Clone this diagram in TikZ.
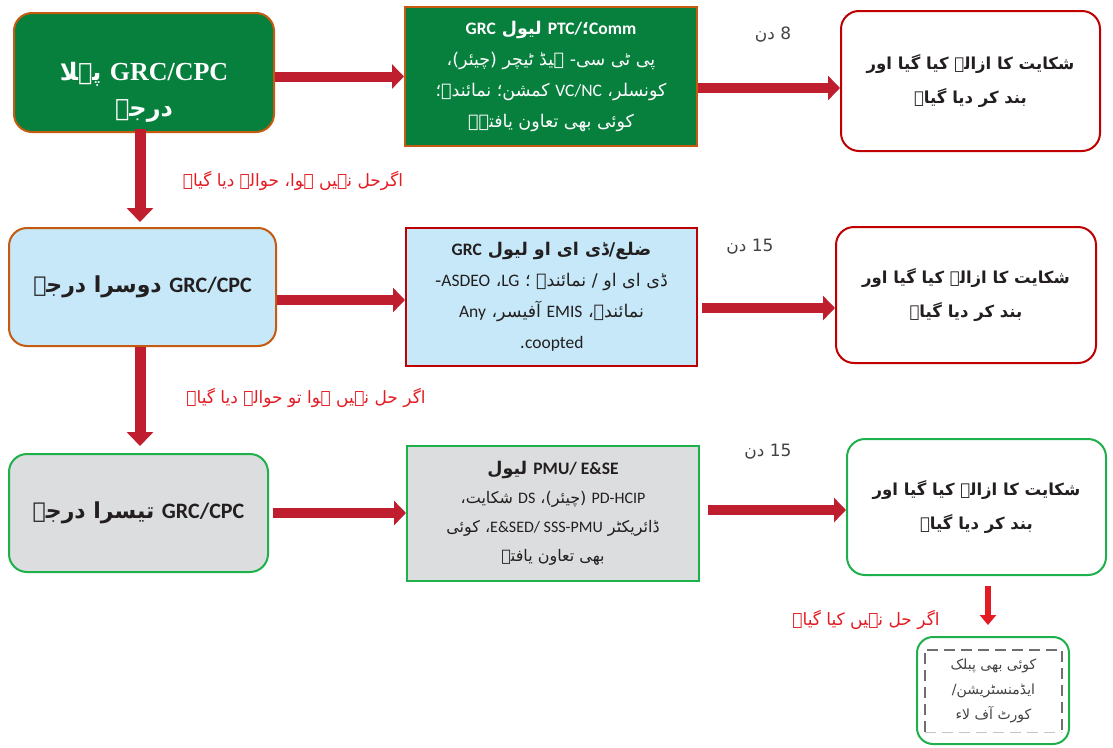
\documentclass[tikz,border=0pt]{standalone}
\usepackage{fontspec}
\usetikzlibrary{arrows.meta}
\TeXXeTstate=1
\newfontfamily\ur[Script=Arabic]{DejaVu Sans}
\newfontfamily\lat{Carlito}
\newfontfamily\serifb{Liberation Serif}
\newcommand\en[1]{\beginL{\lat #1}\endL}
\definecolor{dkgreen}{HTML}{077F3D}
\definecolor{borderorange}{HTML}{C55A11}
\definecolor{dkred}{HTML}{C00000}
\definecolor{arrowred}{HTML}{BE1E2D}
\definecolor{ltblue}{HTML}{C6E8F8}
\definecolor{ltgray}{HTML}{DCDDDE}
\definecolor{brgreen}{HTML}{1EB04B}
\definecolor{txtred}{HTML}{E31B23}
\definecolor{txtdark}{HTML}{231F20}
\definecolor{dashgray}{HTML}{6D6E70}
\begin{document}
\begin{tikzpicture}[x=1pt,y=-1pt,
  every node/.style={font=\ur, inner sep=0pt},
  rbox/.style={draw, rounded corners=18pt, line width=2pt, align=center},
  sbox/.style={draw, line width=2pt, align=center},
  bigarrow/.style={draw=arrowred, line width=10pt, -{Triangle[length=12pt,width=24pt]}},
  smallarrow/.style={draw=txtred, line width=6pt, -{Triangle[length=10pt,width=16pt]}},
  btext/.style={font=\ur\fontsize{17.5}{31}\selectfont},
  ctext/.style={font=\ur\bfseries\fontsize{16.5}{34}\selectfont, text=txtdark},
  redlbl/.style={font=\ur\fontsize{17}{20}\selectfont, text=txtred},
  daylbl/.style={font=\ur\fontsize{17}{20}\selectfont, text=txtdark!85}
]
\useasboundingbox (0,0) rectangle (1113,747);

% ---------- row 1
\node[rbox, draw=borderorange, fill=dkgreen, minimum width=260pt, minimum height=119pt] (A1) at (144,72.5) {};
\node[align=center, text=white, font=\ur\bfseries\fontsize{24}{36}\selectfont] (A1t) at (144,92)
  {\beginR پہلا\endR\ \beginL{\serifb\bfseries\fontsize{26}{36}\selectfont GRC/CPC}\endL\\ \beginR درجہ\endR};
\node[sbox, draw=borderorange, fill=dkgreen, text=white, btext, minimum width=292pt, minimum height=139pt] (B1) at (551,76.5)
  {{\bfseries \en{GRC} \beginR لیول\endR\ \en{PTC/}؛\en{Comm}}\\
   \beginR پی ٹی سی- ہیڈ ٹیچر (چیئر)،\endR\\
   \beginR کمشن؛ نمائندہ؛\endR\ \en{VC/NC} \beginR کونسلر،\endR\\
   \beginR کوئی بھی تعاون یافتہ۔\endR};
\node[rbox, draw=dkred, fill=white, ctext, minimum width=259pt, minimum height=140pt] (C1) at (970.5,81)
  {\beginR شکایت کا ازالہ کیا گیا اور\endR\\ \beginR بند کر دیا گیا۔\endR};
\node[daylbl] (d1) at (773,35) {\beginR 8 دن\endR};

% ---------- row 2
\node[rbox, draw=borderorange, fill=ltblue, text=txtdark, minimum width=267pt, minimum height=118pt,
  font=\ur\bfseries\fontsize{22}{30}\selectfont] (A2) at (142.5,287)
  {\beginR دوسرا درجہ\endR\ \en{GRC/CPC}};
\node[sbox, draw=dkred, fill=ltblue, text=txtdark, btext, minimum width=291pt, minimum height=138pt] (B2) at (551.5,297)
  {{\bfseries \en{GRC} \beginR ضلع/ڈی ای او لیول\endR}\\
   \beginR ڈی ای او / نمائندے ؛ \en{LG}، \en{ASDEO}-\endR\\
   \beginR نمائندہ، \en{EMIS} آفیسر، \en{Any}\endR\\
   \beginR\en{coopted}.\endR};
\node[rbox, draw=dkred, fill=white, ctext, minimum width=260pt, minimum height=136pt] (C2) at (966,295)
  {\beginR شکایت کا ازالہ کیا گیا اور\endR\\ \beginR بند کر دیا گیا۔\endR};
\node[daylbl] (d2) at (750,247) {\beginR 15 دن\endR};

% ---------- row 3
\node[rbox, draw=brgreen, fill=ltgray, text=txtdark, minimum width=259pt, minimum height=118pt,
  font=\ur\bfseries\fontsize{22}{30}\selectfont] (A3) at (138.5,513)
  {\beginR تیسرا درجہ\endR\ \en{GRC/CPC}};
\node[sbox, draw=brgreen, fill=ltgray, text=txtdark, font=\ur\fontsize{16}{29}\selectfont, minimum width=292pt, minimum height=135pt] (B3) at (553,513.5)
  {{\bfseries\fontsize{17.5}{29}\selectfont \beginR \en{PMU/ E\&SE} لیول\endR}\\
   \beginR \en{PD-HCIP} (چیئر)، \en{DS} شکایت،\endR\\
   \beginR ڈائریکٹر \en{E\&SED/ SSS-PMU}، کوئی\endR\\
   \beginR بھی تعاون یافتہ\endR};
\node[rbox, draw=brgreen, fill=white, ctext, minimum width=259pt, minimum height=136pt] (C3) at (976.5,507)
  {\beginR شکایت کا ازالہ کیا گیا اور\endR\\ \beginR بند کر دیا گیا۔\endR};
\node[daylbl] (d3) at (768,452) {\beginR 15 دن\endR};

% ---------- final box
\node[rbox, draw=brgreen, rounded corners=16pt, fill=white, minimum width=152pt, minimum height=107pt] (D) at (993,690.5) {};
\node[align=center, text=txtdark!85, font=\ur\fontsize{14}{25}\selectfont, minimum width=137pt, minimum height=82pt] (Dt) at (993.5,691)
  {\beginR کوئی بھی پبلک\endR\\ \beginR ایڈمنسٹریشن/\endR\\ \beginR کورٹ آف لاء\endR};
\draw[dashgray, line width=1.6pt, dash pattern=on 11pt off 6pt] (Dt.south west) -- (Dt.north west) -- (Dt.north east) -- (Dt.south east);
\draw[dashgray!40, line width=0.8pt, dash pattern=on 11pt off 6pt] (Dt.south west) -- (Dt.south east);

% ---------- labels
\node[redlbl] (r1) at (293,181) {\beginR اگرحل نہیں ہوا، حوالہ دیا گیا۔\endR};
\node[redlbl] (r2) at (306,398) {\beginR اگر حل نہیں ہوا تو حوالہ دیا گیا۔\endR};
\node[redlbl] (r3) at (866,620) {\beginR اگر حل نہیں کیا گیا۔\endR};

% ---------- connectors
\coordinate (a1o) at ([yshift=-4pt]A1.east);
\draw[bigarrow] (a1o) -- (a1o -| B1.west);
\coordinate (b1o) at ([yshift=-11.5pt]B1.east);
\draw[bigarrow] (b1o) -- (b1o -| C1.west);
\coordinate (a2o) at ([yshift=-13pt]A2.east);
\draw[bigarrow] (a2o) -- (a2o -| B2.west);
\coordinate (b2o) at ([yshift=-11pt,xshift=4pt]B2.east);
\draw[bigarrow] (b2o) -- (b2o -| C2.west);
\coordinate (a3o) at ([xshift=4pt]A3.east);
\draw[bigarrow] (a3o) -- (a3o -| B3.west);
\coordinate (b3o) at ([yshift=3.5pt,xshift=8pt]B3.east);
\draw[bigarrow] (b3o) -- (b3o -| C3.west);

\coordinate (a1d) at ([xshift=-4pt,yshift=4pt]A1.south);
\draw[bigarrow, line width=11pt, -{Triangle[length=14pt,width=26pt]}] (a1d) -- ([yshift=5pt]a1d |- A2.north);
\coordinate (a2d) at ([xshift=-2.5pt]A2.south);
\draw[bigarrow, line width=11pt, -{Triangle[length=14pt,width=26pt]}] (a2d) -- ([yshift=7pt]a2d |- A3.north);
\coordinate (c3d) at ([xshift=11.5pt,yshift=-10pt]C3.south);
\draw[smallarrow] (c3d) -- ([yshift=11pt]c3d |- D.north);
\end{tikzpicture}
\end{document}
